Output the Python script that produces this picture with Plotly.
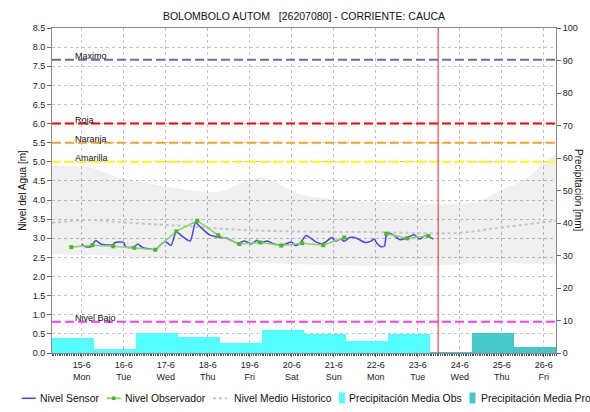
import pandas as pd
import plotly.graph_objects as go

# ---------------------------------------------------------------- data
# Sensor water level [m]
sensor_time = [
    "2020-06-15 00:00", "2020-06-15 02:00", "2020-06-15 05:00", "2020-06-15 07:00", "2020-06-15 08:00",
    "2020-06-15 11:00", "2020-06-15 13:00", "2020-06-15 18:00", "2020-06-15 19:00",
    "2020-06-16 00:00", "2020-06-16 01:00", "2020-06-16 03:00", "2020-06-16 06:00", "2020-06-16 08:00",
    "2020-06-16 10:00", "2020-06-16 12:00", "2020-06-16 14:00", "2020-06-16 17:00", "2020-06-16 18:00",
    "2020-06-16 21:00",
    "2020-06-17 00:00", "2020-06-17 03:00", "2020-06-17 06:00", "2020-06-17 10:00", "2020-06-17 14:00",
    "2020-06-17 17:00", "2020-06-17 19:00",
    "2020-06-18 01:00", "2020-06-18 06:00", "2020-06-18 11:00", "2020-06-18 17:00", "2020-06-18 21:00",
    "2020-06-19 01:00", "2020-06-19 04:00", "2020-06-19 06:00", "2020-06-19 10:00", "2020-06-19 14:00",
    "2020-06-19 19:00",
    "2020-06-20 00:00", "2020-06-20 02:00", "2020-06-20 05:00", "2020-06-20 08:00", "2020-06-20 11:00",
    "2020-06-20 14:00", "2020-06-20 17:00", "2020-06-20 19:00", "2020-06-20 23:00",
    "2020-06-21 01:00", "2020-06-21 04:00", "2020-06-21 06:00", "2020-06-21 09:00", "2020-06-21 12:00",
    "2020-06-21 14:00", "2020-06-21 18:00", "2020-06-21 21:00", "2020-06-21 23:00",
    "2020-06-22 01:00", "2020-06-22 03:00", "2020-06-22 05:00", "2020-06-22 06:00", "2020-06-22 08:00",
    "2020-06-22 10:00", "2020-06-22 14:00", "2020-06-22 17:00", "2020-06-22 19:00", "2020-06-22 22:00",
    "2020-06-23 01:00", "2020-06-23 04:00", "2020-06-23 06:00", "2020-06-23 09:00",
]
sensor_level = [
    2.86, 2.78, 2.78, 2.89, 2.94, 2.85, 2.83, 2.84, 2.89,
    2.89, 2.78, 2.76, 2.78, 2.85, 2.78, 2.74, 2.73, 2.70, 2.68, 2.83,
    2.91, 2.81, 3.17, 3.03, 2.93, 3.42, 3.33,
    3.09, 3.03, 3.00, 2.87, 2.93,
    2.85, 2.95, 2.88, 2.93, 2.85, 2.83,
    2.90, 2.81, 2.88, 3.07, 3.00, 2.90, 2.86, 2.89, 3.02,
    2.92, 2.98, 2.92, 3.02, 3.02, 2.98, 2.89, 2.92, 2.98,
    2.85, 2.78, 2.80, 3.06, 3.13, 3.09, 2.96, 3.00, 3.04, 3.09,
    2.98, 3.06, 3.05, 2.98,
]

# Observer readings [m] (06:00 and 18:00); None = missing reading
obs_time = [
    "2020-06-14 18:00", "2020-06-15 06:00", "2020-06-15 18:00", "2020-06-16 06:00", "2020-06-16 18:00",
    "2020-06-17 06:00", "2020-06-17 18:00", "2020-06-18 06:00", "2020-06-18 18:00", "2020-06-19 06:00",
    "2020-06-19 18:00", "2020-06-20 06:00", "2020-06-20 18:00", "2020-06-21 06:00", "2020-06-21 18:00",
    "2020-06-22 06:00", "2020-06-22 18:00", "2020-06-23 06:00",
]
obs_level = [2.77, 2.82, 2.79, 2.75, 2.70, 3.18, 3.46, 3.08, 2.85, 2.89,
             2.81, 2.87, 2.82, 3.02, None, 3.12, 3.00, 3.06]

# Historic envelope and mean level [m]
hist_upper_time = [
    "2020-06-14 07:00", "2020-06-14 18:00", "2020-06-15 01:00", "2020-06-15 05:00", "2020-06-15 23:00",
    "2020-06-16 10:00", "2020-06-17 01:00", "2020-06-18 06:00", "2020-06-18 17:00", "2020-06-19 06:00",
    "2020-06-19 10:00", "2020-06-20 05:00", "2020-06-20 23:00", "2020-06-22 00:00", "2020-06-22 19:00",
    "2020-06-23 12:00", "2020-06-24 06:00", "2020-06-24 15:00", "2020-06-24 22:00", "2020-06-25 14:00",
    "2020-06-26 01:00", "2020-06-26 07:00",
]
hist_upper = [4.90, 4.90, 4.88, 4.85, 4.57, 4.47, 4.35, 4.21, 4.40, 4.59,
              4.57, 4.15, 4.03, 3.96, 3.93, 3.89, 3.92, 4.05, 4.22, 4.57,
              5.01, 5.22]

hist_lower_time = [
    "2020-06-14 07:00", "2020-06-15 12:00", "2020-06-16 12:00", "2020-06-17 12:00", "2020-06-18 12:00",
    "2020-06-19 12:00", "2020-06-20 12:00", "2020-06-21 12:00", "2020-06-22 12:00", "2020-06-23 12:00",
    "2020-06-24 06:00", "2020-06-25 12:00", "2020-06-26 07:00",
]
hist_lower = [2.58, 2.55, 2.50, 2.45, 2.40, 2.35, 2.31, 2.29, 2.28, 2.29, 2.34, 2.34, 2.32]

hist_mean_time = [
    "2020-06-14 07:00", "2020-06-15 03:00", "2020-06-15 22:00", "2020-06-16 20:00", "2020-06-17 14:00",
    "2020-06-18 19:00", "2020-06-20 01:00", "2020-06-22 01:00", "2020-06-23 23:00", "2020-06-24 20:00",
    "2020-06-26 07:00",
]
hist_mean = [3.40, 3.48, 3.42, 3.36, 3.31, 3.22, 3.18, 3.16, 3.14, 3.26, 3.46]

# Daily precipitation [mm], 07:00 to 07:00
precip_obs_start = [
    "2020-06-14 07:00", "2020-06-15 07:00", "2020-06-16 07:00", "2020-06-17 07:00", "2020-06-18 07:00",
    "2020-06-19 07:00", "2020-06-20 07:00", "2020-06-21 07:00", "2020-06-22 07:00",
]
precip_obs = [4.7, 1.1, 6.2, 5.0, 3.2, 7.0, 5.7, 3.7, 5.7]
precip_pro_start = ["2020-06-23 07:00", "2020-06-24 07:00", "2020-06-25 07:00"]
precip_pro = [0.3, 6.3, 1.8]

# Alert thresholds [m]
threshold_names = ["Maximo", "Roja", "Naranja", "Amarilla", "Nivel Bajo"]
threshold_levels = [7.67, 6.0, 5.5, 5.0, 0.82]

now_time = "2020-06-23 11:40"
x_range = ["2020-06-14 07:00", "2020-06-26 07:00"]

legend_labels = ["Nivel Sensor", "Nivel Observador", "Nivel Medio Historico",
                 "Precipitación Media Obs", "Precipitación Media Pro"]

# ---------------------------------------------------------------- style
FONT = "Liberation Sans, Arial, sans-serif"
W, H = 590, 412
L, R, T, B = 52, 34, 28, 59
PW, PH = W - L - R, H - T - B
GRID = "#c2c2c2"
C_SENSOR = "rgb(70,70,250)"
C_OBS_LINE = "rgb(140,215,100)"
C_OBS_MARK = "rgb(70,185,30)"
C_MEAN = "rgb(198,198,198)"
C_PRE_OBS = "rgb(85,255,255)"
C_PRE_PRO = "rgb(70,200,200)"
threshold_colors = ["rgb(100,115,160)", "rgb(255,0,0)", "rgb(255,160,40)",
                    "rgb(255,255,0)", "rgb(255,60,255)"]


def px_x(p):
    return (p - L) / PW


def px_y(p):
    return (H - B - p) / PH


DAY_MS = 86400000

fig = go.Figure()

# historic envelope (band)
fig.add_trace(go.Scatter(x=pd.to_datetime(hist_lower_time), y=hist_lower, mode="lines",
                         line=dict(width=0, shape="spline"), hoverinfo="skip", showlegend=False))
fig.add_trace(go.Scatter(x=pd.to_datetime(hist_upper_time), y=hist_upper, mode="lines",
                         line=dict(width=0, shape="spline"), fill="tonexty",
                         fillcolor="rgba(0,0,0,0.058)", hoverinfo="skip", showlegend=False))

# historic mean
fig.add_trace(go.Scatter(x=pd.to_datetime(hist_mean_time), y=hist_mean, mode="lines",
                         line=dict(color=C_MEAN, width=2, dash="3px,3px", shape="spline"),
                         name=legend_labels[2], showlegend=False))

# precipitation bars (right axis)
fig.add_trace(go.Bar(x=pd.to_datetime(precip_obs_start), y=precip_obs, width=DAY_MS, offset=0,
                     marker=dict(color=C_PRE_OBS, line=dict(width=0)), yaxis="y2",
                     name=legend_labels[3], showlegend=False))
fig.add_trace(go.Bar(x=pd.to_datetime(precip_pro_start), y=precip_pro, width=DAY_MS, offset=0,
                     marker=dict(color=C_PRE_PRO, line=dict(width=0)), yaxis="y2",
                     name=legend_labels[4], showlegend=False))

# sensor level
fig.add_trace(go.Scatter(x=pd.to_datetime(sensor_time), y=sensor_level, mode="lines",
                         line=dict(color=C_SENSOR, width=1.5, shape="spline", smoothing=0.6),
                         name=legend_labels[0], showlegend=False))

# observer level
fig.add_trace(go.Scatter(x=pd.to_datetime(obs_time), y=obs_level, mode="lines+markers",
                         line=dict(color=C_OBS_LINE, width=1.6),
                         marker=dict(color=C_OBS_MARK, size=4, symbol="square"),
                         name=legend_labels[1], showlegend=False))

shapes = []
annotations = []

# thresholds
for name, lvl, col in zip(threshold_names, threshold_levels, threshold_colors):
    shapes.append(dict(type="line", xref="paper", yref="y", x0=0, x1=1, y0=lvl, y1=lvl,
                       line=dict(color=col, width=2, dash="9px,4px"), layer="above"))
    annotations.append(dict(text=name, xref="paper", yref="y", x=px_x(73), y=lvl,
                            xanchor="left", yanchor="bottom", yshift=-3, showarrow=False,
                            font=dict(family=FONT, size=9, color="#111")))

# current time marker
shapes.append(dict(type="line", xref="x", yref="paper", x0=now_time, x1=now_time, y0=0, y1=1,
                   line=dict(color="rgb(230,40,40)", width=1), layer="above"))

# legend row
ly = px_y(398.3)
shapes.append(dict(type="line", xref="paper", yref="paper", x0=px_x(21.7), x1=px_x(35.7), y0=ly, y1=ly,
                   line=dict(color=C_SENSOR, width=1.5)))
shapes.append(dict(type="line", xref="paper", yref="paper", x0=px_x(106.7), x1=px_x(120.7), y0=ly, y1=ly,
                   line=dict(color=C_OBS_LINE, width=2)))
shapes.append(dict(type="rect", xref="paper", yref="paper", x0=px_x(112), x1=px_x(115.5),
                   y0=px_y(400), y1=px_y(396.5), line=dict(width=0), fillcolor=C_OBS_MARK))
shapes.append(dict(type="line", xref="paper", yref="paper", x0=px_x(213), x1=px_x(227), y0=ly, y1=ly,
                   line=dict(color=C_MEAN, width=2, dash="3px,3px")))
shapes.append(dict(type="rect", xref="paper", yref="paper", x0=px_x(339), x1=px_x(345),
                   y0=px_y(403.5), y1=px_y(392.5), line=dict(width=0), fillcolor=C_PRE_OBS))
shapes.append(dict(type="rect", xref="paper", yref="paper", x0=px_x(469.5), x1=px_x(475.5),
                   y0=px_y(403.5), y1=px_y(392.5), line=dict(width=0), fillcolor=C_PRE_PRO))
for label, tx in zip(legend_labels, [38.3, 123.3, 231.5, 347, 478.5]):
    annotations.append(dict(text=label, xref="paper", yref="paper", x=px_x(tx), y=ly,
                            xanchor="left", yanchor="middle", showarrow=False,
                            font=dict(family=FONT, size=10.4, color="#111")))

# right axis title
annotations.append(dict(text="Precipitación [mm]", xref="paper", yref="paper", x=px_x(579), y=px_y(190),
                        xanchor="center", yanchor="middle", textangle=90, showarrow=False,
                        font=dict(family=FONT, size=10, color="#111")))

fig.update_layout(
    width=W, height=H, autosize=False,
    margin=dict(l=L, r=R, t=T, b=B, pad=0),
    paper_bgcolor="white", plot_bgcolor="white",
    font=dict(family=FONT, size=9, color="#222"),
    barmode="overlay", bargap=0,
    showlegend=False,
    title=dict(text="BOLOMBOLO AUTOM\u00a0\u00a0\u00a0[26207080] - CORRIENTE: CAUCA",
               x=px_x(304), xref="paper", xanchor="center",
               y=1 - 16 / H, yref="container", yanchor="middle",
               font=dict(family=FONT, size=10.5, color="#111")),
    xaxis=dict(type="date", range=x_range, tick0="2020-06-15", dtick=DAY_MS,
               tickformat="%-d-%-m<br>%a", tickfont=dict(size=9, color="#222"),
               showgrid=True, gridcolor=GRID, griddash="dot", gridwidth=1,
               ticks="outside", ticklen=3, tickcolor="#555",
               minor=dict(dtick=3600000, ticks="outside", ticklen=2, tickcolor="#555", showgrid=False),
               showline=True, linecolor="#888", linewidth=1, mirror=True, zeroline=False),
    yaxis=dict(range=[0, 8.5], dtick=0.5, tickformat=".1f", tickfont=dict(size=9, color="#222"),
               showgrid=True, gridcolor=GRID, griddash="dot", gridwidth=1,
               ticks="outside", ticklen=4, tickcolor="#666",
               showline=True, linecolor="#888", linewidth=1, zeroline=False,
               title=dict(text="Nivel del Agua [m]", standoff=4,
                          font=dict(family=FONT, size=10, color="#111"))),
    yaxis2=dict(overlaying="y", side="right", range=[0, 100], dtick=10,
                tickfont=dict(size=9, color="#222"), showgrid=False,
                ticks="outside", ticklen=4, tickcolor="#666",
                showline=True, linecolor="#888", linewidth=1, zeroline=False),
    shapes=shapes,
    annotations=annotations,
)

fig.write_html("out.html")
